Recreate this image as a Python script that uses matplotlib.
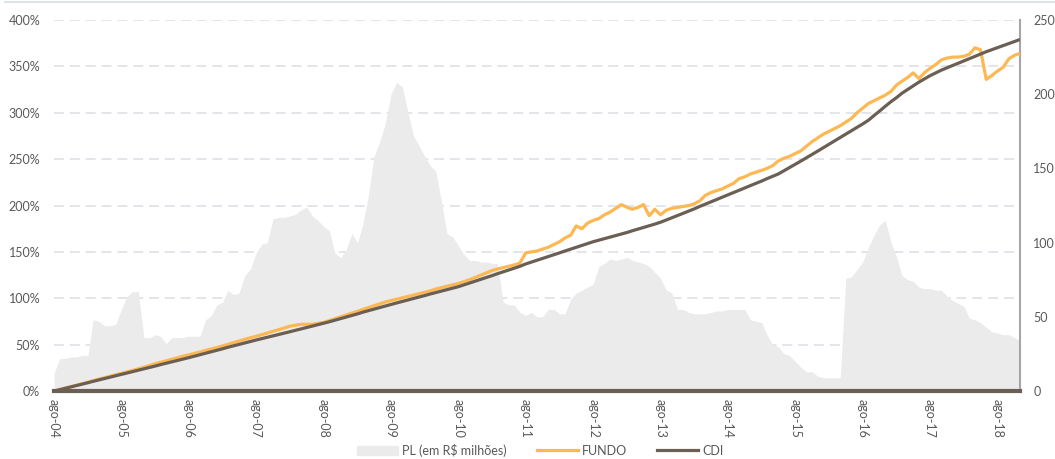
import numpy as np
import pandas as pd
import matplotlib
matplotlib.use('Agg')
import matplotlib.pyplot as plt
import matplotlib.patches as mpatches
from matplotlib.lines import Line2D

plt.rcParams['font.family'] = ['Lato', 'DejaVu Sans']

# PL do fundo (R$ milhoes), mensal desde ago-04
pl = [12, 22, 22, 23, 23, 24, 24, 48, 47, 44, 44, 45,
      55, 64, 67, 67, 36, 36, 38, 37, 32, 36, 36, 36,
      37, 37, 37, 48, 51, 58, 60, 68, 65, 66, 78, 82,
      93, 99, 100, 116, 117, 117, 118, 119, 122, 124, 118, 115,
      111, 108, 93, 90, 95, 106, 100, 112, 132, 158, 168, 180,
      200, 208, 205, 188, 172, 165, 158, 152, 148, 128, 106, 104,
      98, 92, 88, 88, 87, 87, 86, 86, 60, 58, 58, 53,
      51, 53, 50, 50, 55, 55, 52, 52, 62, 66, 68, 70,
      72, 84, 86, 89, 88, 89, 90, 88, 87, 86, 84, 80,
      76, 68, 66, 55, 55, 53, 52, 52, 52, 53, 54, 54,
      55, 55, 55, 55, 48, 47, 46, 38, 31, 30, 25, 24,
      20, 16, 13, 13, 10, 9, 9, 9, 9, 76, 77, 82,
      87, 97, 105, 112, 115, 100, 90, 78, 75, 74, 70, 69,
      69, 68, 68, 64, 61, 59, 57, 49, 48, 46, 43, 40,
      39, 38, 38, 36, 34]

# rentabilidade acumulada (%)
fundo = [0, 1.6, 3.2, 4.8, 6.4, 8, 9.6, 11.2, 12.8, 14.4, 16, 17.5,
         19, 20.7, 22.3, 24, 25.7, 27.5, 29.5, 31, 32.7, 34.3, 36, 37.6,
         39, 40.6, 42.2, 43.8, 45.4, 47, 48.7, 50.4, 52.2, 54, 55.8, 57.5,
         59, 60.8, 62.6, 64.4, 66.2, 68, 70, 71, 72, 72, 72, 73,
         74, 76, 78, 80, 82, 84, 86, 88, 90, 92, 94, 96,
         97.5, 99, 100.5, 102, 103.5, 105, 106.5, 108, 110, 111.5, 113, 114.5,
         116, 118, 120, 122.5, 125, 127.5, 130, 131.5, 133, 134.5, 136, 138,
         149, 150, 151, 153, 155, 158, 161, 165, 168, 178, 175, 181,
         184, 186, 190, 193, 197, 201, 198, 196, 198, 201, 189, 196,
         190, 195, 197, 198, 199, 200, 202, 205, 211, 214, 216, 218,
         221, 224, 229, 231, 234, 236, 238, 240, 243, 248, 251, 253,
         256, 259, 264, 269, 273, 277, 280, 283, 286, 290, 294, 300,
         305, 310, 313, 316, 319, 323, 330, 334, 338, 343, 337, 343,
         348, 352, 357, 359, 360, 360, 361, 363, 370, 368, 336, 340,
         345, 349, 358, 362, 364]

cdi = [0, 1.5, 3, 4.5, 6, 7.5, 9, 10.5, 12, 13.5, 15, 16.5,
       18, 19.5, 21, 22.5, 24, 25.5, 27, 28.5, 30, 31.5, 33, 34.5,
       36, 37.6, 39.2, 40.8, 42.4, 44, 45.6, 47.2, 48.8, 50.4, 52, 53.5,
       55, 56.5, 58, 59.5, 61, 62.5, 64, 65.5, 67, 68.5, 70, 71.5,
       73, 74.7, 76.4, 78.1, 79.8, 81.5, 83.2, 85, 86.7, 88.4, 90.1, 91.8,
       93.5, 95, 96.6, 98.2, 99.8, 101.4, 103, 104.6, 106.2, 107.8, 109.4, 111,
       112.5, 114.5, 116.5, 118.5, 120.5, 122.5, 124.5, 126.5, 128.5, 130.5, 132.5, 134.5,
       137, 139, 141, 143, 145, 147, 149, 151, 153, 155, 157, 159,
       161, 162.7, 164.4, 166.1, 167.8, 169.5, 171, 172.8, 174.6, 176.4, 178.2, 180,
       182, 184.4, 186.8, 189.2, 191.6, 194, 196.5, 199, 201.5, 204, 206.5, 209,
       211.5, 214, 216.5, 219, 221.5, 224, 226.5, 229, 231.5, 234, 237.5, 241,
       244.5, 248, 251.5, 255, 258.7, 262.4, 266, 269.7, 273.4, 277, 280.7, 284.4,
       288, 292, 297, 302, 307, 312, 316.5, 321, 325, 329, 333, 336.5,
       340, 343, 346, 348.5, 351, 353.5, 356, 358.3, 360.8, 363.3, 365.8, 368,
       370.2, 372.4, 374.6, 376.8, 379]

xlabels = ['ago-04', 'ago-05', 'ago-06', 'ago-07', 'ago-08', 'ago-09', 'ago-10',
           'ago-11', 'ago-12', 'ago-13', 'ago-14', 'ago-15', 'ago-16', 'ago-17', 'ago-18']

months = pd.date_range('2004-08-01', periods=len(pl), freq='MS')
xticks = pd.date_range('2004-08-01', periods=len(xlabels), freq='12MS')

c_area = '#ebebeb'
c_fundo = '#fdb853'
c_cdi = '#6b5f53'
c_txt = '#595959'

fig = plt.figure(figsize=(10.55, 4.59), dpi=100)
ax = fig.add_axes([0.0512, 0.148, 0.9156, 0.8084])
ax2 = ax.twinx()

# area do PL + grade (grade fica atras da area)
for k in range(1, 9):
    ax2.axhline(k * 31.25, color='#dde2e7', lw=1.2, dashes=(6, 3.5), zorder=0.5)
ax2.fill_between(months, pl, color=c_area, lw=0, zorder=1)
ax2.set_ylim(0, 250)
ax2.set_yticks(range(0, 251, 50))

ax.plot(months, fundo, color=c_fundo, lw=2.3, solid_capstyle='butt')
ax.plot(months, cdi, color=c_cdi, lw=2.3, solid_capstyle='butt')
ax.set_zorder(ax2.get_zorder() + 1)
ax.patch.set_visible(False)

ax.set_ylim(0, 400)
ax.set_xlim(months[0], months[-1])
ax.set_yticks(range(0, 401, 50))
ax.set_yticklabels([f'{v}%' for v in range(0, 401, 50)])
ax.set_xticks(xticks)
ax.set_xticklabels(xlabels, rotation=-90)

ax.tick_params(axis='y', length=0, colors=c_txt, labelsize=9, pad=10)
ax.tick_params(axis='x', length=0, colors=c_txt, labelsize=9, pad=6)
ax2.tick_params(axis='y', length=0, colors=c_txt, labelsize=9, pad=9.5)

for s in ['left', 'top', 'right']:
    ax.spines[s].set_visible(False)
ax.spines['bottom'].set_color(c_cdi)
ax.spines['bottom'].set_linewidth(3)
for s in ['left', 'top', 'bottom']:
    ax2.spines[s].set_visible(False)
ax2.spines['right'].set_color('#a6a6a6')
ax2.spines['right'].set_linewidth(1.5)

fig.add_artist(Line2D([0.005, 1], [0.996, 0.996], color='#dde3e8', lw=1.5))

handles = [mpatches.Patch(color=c_area, label='PL (em R$ milhões)'),
           Line2D([], [], color=c_fundo, lw=2.3, label='FUNDO'),
           Line2D([], [], color=c_cdi, lw=2.3, label='CDI')]
fig.legend(handles=handles, loc='center', bbox_to_anchor=(0.512, 0.019), ncol=3,
           frameon=False, fontsize=9, handlelength=3.3, handletextpad=0.3,
           columnspacing=2.4, labelcolor=c_txt, borderpad=0.1)

fig.savefig('out.png', dpi=100)
